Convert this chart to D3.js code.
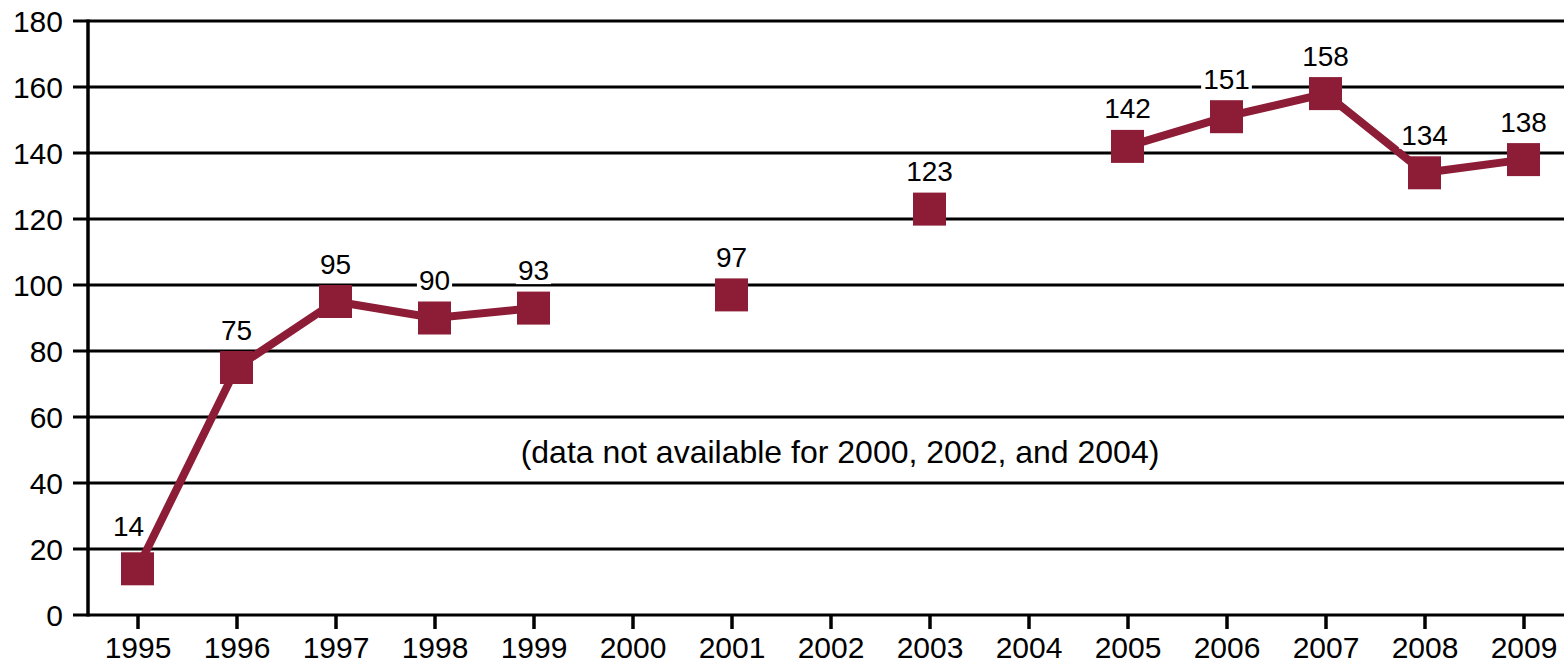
<!DOCTYPE html>
<html><head><meta charset="utf-8">
<script src="https://cdn.jsdelivr.net/npm/d3@7"></script>
<style>body{margin:0;background:#fff}svg{display:block}text{font-family:"Liberation Sans",Arial,Helvetica,sans-serif;fill:#000}</style>
</head><body><svg id="c" width="1564" height="665"></svg>
<script>
const years = ["1995","1996","1997","1998","1999","2000","2001","2002","2003","2004","2005","2006","2007","2008","2009"];
const values = [14,75,95,90,93,null,97,null,123,null,142,151,158,134,138];
const yTicks = [0,20,40,60,80,100,120,140,160,180];
const note = "(data not available for 2000, 2002, and 2004)";

(function(){
const W=1564,H=665, pLeft=88, pRight=1573, pTop=21, pBottom=615;
const color="#8d1c36";
const FONT='"Liberation Sans",Arial,Helvetica,sans-serif';
const svg=d3.select("#c");
const x=d3.scalePoint().domain(years).range([pLeft,pRight]).padding(0.5);
const y=d3.scaleLinear().domain([0,180]).range([pBottom,pTop]);

svg.append("g").selectAll("line").data(yTicks).join("line")
  .attr("x1",73).attr("x2",W).attr("y1",d=>y(d)).attr("y2",d=>y(d))
  .attr("stroke","#000").attr("stroke-width",3);
svg.append("g").selectAll("text").data(yTicks).join("text")
  .attr("x",63).attr("y",d=>y(d)+11).attr("text-anchor","end")
  .attr("font-size",30).text(d=>d);
svg.append("line").attr("x1",pLeft).attr("x2",pLeft).attr("y1",pTop-1.5).attr("y2",pBottom+1.5)
  .attr("stroke","#000").attr("stroke-width",3.5);
const xa=svg.append("g").attr("transform",`translate(0,${pBottom})`)
  .call(d3.axisBottom(x).tickSize(14).tickSizeOuter(0).tickPadding(7));
xa.select(".domain").remove();
xa.selectAll(".tick line").attr("stroke","#000").attr("stroke-width",3.5);
xa.selectAll(".tick text").attr("font-size",30).attr("fill","#000").attr("dy","0.72em")
  .attr("font-family",FONT);

const pts=years.map((yr,i)=>({yr,v:values[i],i}));
const line=d3.line().defined(d=>d.v!=null).x(d=>x(d.yr)).y(d=>y(d.v));
svg.append("path").datum(pts).attr("d",line).attr("fill","none")
  .attr("stroke",color).attr("stroke-width",8).attr("stroke-linejoin","miter");
const s=33;
svg.append("g").selectAll("rect").data(pts.filter(d=>d.v!=null)).join("rect")
  .attr("x",d=>x(d.yr)-s/2).attr("y",d=>y(d.v)-s/2).attr("width",s).attr("height",s)
  .attr("fill",color);

const lg=svg.append("g");
pts.filter(d=>d.v!=null).forEach(d=>{
  const g=lg.append("g");
  const dx = d.i===0 ? -9 : 0;   // nudge first label away from the rising line
  const dy = d.i===0 ? -33 : -28;
  const t=g.append("text").attr("x",x(d.yr)+dx).attr("y",y(d.v)+dy).attr("text-anchor","middle")
    .attr("font-size",28).text(d.v);
  const b=t.node().getBBox();
  g.insert("rect","text").attr("x",b.x-2).attr("y",b.y+3).attr("width",b.width+4).attr("height",b.height-5).attr("fill","#fff");
});

svg.append("text").attr("x",840).attr("y",463).attr("text-anchor","middle")
  .attr("font-size",32).text(note);
})();
</script></body></html>
